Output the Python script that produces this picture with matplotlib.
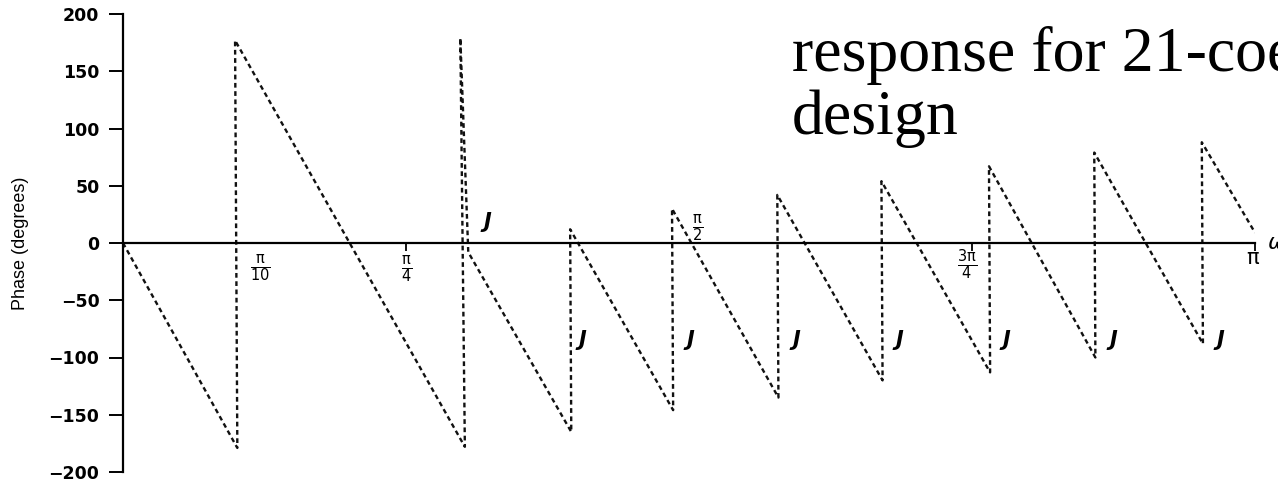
"""Respuesta de fase de un filtro FIR de 21 coeficientes (diente de sierra)."""

import matplotlib
import matplotlib.pyplot as plt

matplotlib.use("Agg")

# Puntos de quiebre de la fase: frecuencia en múltiplos de pi, fase en grados
omega = [0.000, 0.101, 0.099, 0.302, 0.298, 0.305, 0.396, 0.395, 0.486, 0.485,
         0.579, 0.578, 0.671, 0.670, 0.766, 0.765, 0.859, 0.858, 0.954, 0.953,
         1.000]
fase = [0, -179, 177, -178, 179, -8, -165, 12, -146, 30, -135, 42, -120, 54,
        -113, 67, -100, 79, -88, 88, 9]

# Saltos de 180 grados marcados con "J"
saltos_omega = [0.322, 0.406, 0.501, 0.595, 0.686, 0.780, 0.875, 0.969]
saltos_fase = [18, -85, -85, -85, -85, -85, -85, -85]

y_ticks = [200, 150, 100, 50, 0, -50, -100, -150, -200]
y_etiquetas = ["200", "150", "100", "50", "0", "\u221250", "\u2212100",
               "\u2212150", "\u2212200"]

x_ticks = [0.25, 0.75, 1.0]
x_etiquetas = [r"$\frac{\mathrm{\pi}}{10}$", r"$\frac{\mathrm{\pi}}{4}$",
               r"$\frac{\mathrm{\pi}}{2}$", r"$\frac{3\mathrm{\pi}}{4}$"]
# posición (x, y) de cada etiqueta del eje de frecuencia
x_etiq_pos = [(0.121, -22), (0.251, -23), (0.508, 13), (0.746, -19)]

plt.rcParams["mathtext.fontset"] = "dejavusans"

fig = plt.figure(figsize=(12.78, 4.84), dpi=100)
ax = fig.add_axes([123 / 1278, 12 / 484, 1132 / 1278, 458 / 484])

ax.plot(omega, fase, color="#111111", linewidth=1.7,
        linestyle=(0, (2.0, 1.5)))

ax.set_xlim(0, 1.0)
ax.set_ylim(-200, 200)

ax.spines["top"].set_visible(False)
ax.spines["right"].set_visible(False)
ax.spines["bottom"].set_position(("data", 0))
ax.spines["bottom"].set_linewidth(1.6)
ax.spines["left"].set_linewidth(1.6)

ax.set_yticks(y_ticks)
ax.set_yticklabels(y_etiquetas, fontsize=12.5, fontweight="bold",
                   family="DejaVu Sans")
ax.tick_params(axis="y", direction="out", length=10, width=1.4, pad=7)

ax.set_xticks(x_ticks)
ax.set_xticklabels([])
ax.tick_params(axis="x", direction="out", length=6, width=1.3)

for (xe, ye), texto in zip(x_etiq_pos, x_etiquetas):
    ax.text(xe, ye, texto, ha="center", va="center", fontsize=15)
ax.text(0.998, -13, r"$\mathrm{\pi}$", ha="center", va="center", fontsize=15)

for xs, ys in zip(saltos_omega, saltos_fase):
    ax.text(xs, ys, "J", ha="center", va="center", fontsize=15,
            fontweight="bold", style="italic", family="DejaVu Sans")

# símbolo de frecuencia al final del eje
ax.text(1.011, 0, r"$\omega$", ha="left", va="center", fontsize=16,
        clip_on=False)

fig.text(21 / 1278, 1 - 243 / 484, "Phase (degrees)", rotation=90,
         ha="center", va="center", fontsize=13, family="Liberation Sans")

fig.text(792 / 1278, 1 - 71 / 484, "response for 21-coefficient",
         ha="left", va="baseline", fontsize=46, family="Liberation Serif")
fig.text(792 / 1278, 1 - 134 / 484, "design",
         ha="left", va="baseline", fontsize=46, family="Liberation Serif")

fig.savefig("out.png", dpi=100)
plt.close(fig)
